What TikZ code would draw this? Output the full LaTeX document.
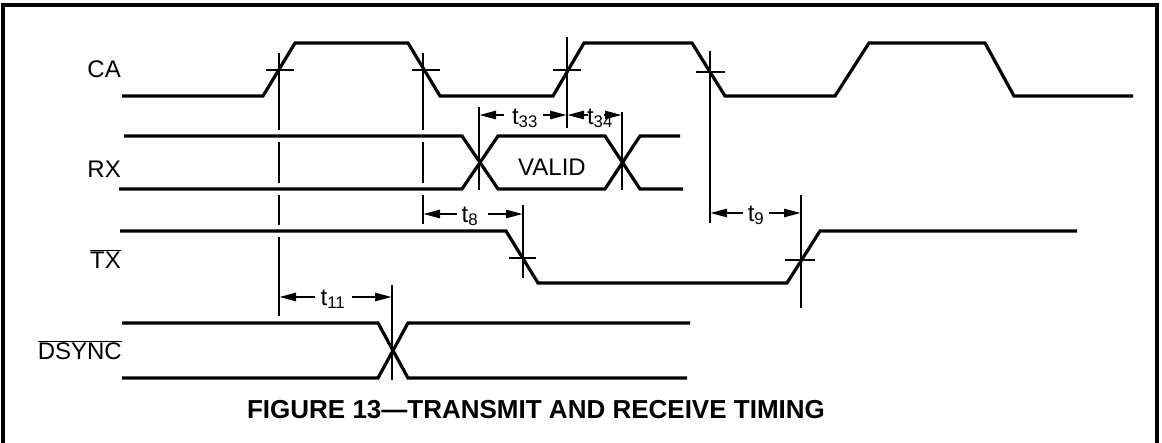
\documentclass[tikz,border=0pt]{standalone}
\usepackage{fontspec}
\setmainfont{Liberation Sans}
\usetikzlibrary{arrows.meta}
\begin{document}
\begin{tikzpicture}[x=1pt,y=-1pt,
  sig/.style={line width=3.2pt,line join=miter},
  vline/.style={line width=2.8pt},
  tick/.style={line width=2.8pt},
  frame/.style={line width=3.5pt},
  dim/.style={line width=2.6pt,-{Triangle[length=17pt,width=8pt]}},
  lbl/.style={font=\fontsize{24}{24}\selectfont,inner sep=0pt},
  tlbl/.style={font=\fontsize{24}{24}\selectfont,inner sep=0pt,anchor=base},
  captext/.style={font=\fontsize{26}{26}\selectfont\bfseries,inner sep=0pt}]
\useasboundingbox (0,0) rectangle (1162,442);
% frame
\draw[frame] (3,445) -- (3,5) -- (1157,5) -- (1157,445);
% labels
\node[lbl,anchor=east] (lca) at (121,69) {CA};
\node[lbl,anchor=east] (lrx) at (121,169) {RX};
\node[lbl,anchor=east] (ltx) at (121,259) {$\overline{\mbox{TX}}$};
\node[lbl,anchor=east] (lds) at (122,350) {$\overline{\mbox{DSYNC}}$};
\node[lbl] (valid) at (552,167) {VALID};
% CA
\draw[sig] (122,96) -- (263,96) -- (295,43) -- (408,43) -- (440,96) -- (553,96) -- (584,43) -- (692,43) -- (725,96) -- (835,96) -- (869,43) -- (985,43) -- (1014,96) -- (1133,96);
% RX
\draw[sig] (124,136) -- (462,136) -- (498,189) -- (605,189) -- (640,136) -- (680,136);
\draw[sig] (119,189) -- (462,189) -- (498,136) -- (605,136) -- (640,189) -- (683,189);
% TX
\draw[sig] (120,231) -- (506,231) -- (538,283) -- (787,283) -- (820,231) -- (1077,231);
% DSYNC
\draw[sig] (122,323) -- (378,323) -- (408,378) -- (687,378);
\draw[sig] (122,378) -- (378,378) -- (408,323) -- (690,323);
% crosshair ticks on CA
\draw[tick] (266,70) -- (294,70);
\draw[tick] (412,70) -- (440,70);
\draw[tick] (553,70) -- (581,70);
\draw[tick] (696,72) -- (725,72);
% ticks on TX
\draw[tick] (509,258) -- (536,258);
\draw[tick] (785,260) -- (815,260);
% vertical reference lines
\draw[vline] (279,53) -- (279,130) (279,142) -- (279,183) (279,195) -- (279,225) (279,237) -- (279,316);
\draw[vline] (423,53) -- (423,130) (423,142) -- (423,183) (423,195) -- (423,224);
\draw[vline] (567,37) -- (567,128);
\draw[vline] (710,51) -- (710,223);
\draw[vline] (479,107) -- (479,190);
\draw[vline] (622,112) -- (622,190);
\draw[vline] (523,205) -- (523,278);
\draw[vline] (801,195) -- (801,308);
\draw[vline] (392,285) -- (392,380);
% t33 / t34
\node[tlbl] (t33) at (525,124) {t\textsubscript{33}};
\node[tlbl] (t34) at (600,124) {t\textsubscript{34}};
\coordinate (a33l) at (479,115);
\coordinate (a33r) at (567,115);
\coordinate (a34r) at (622,115);
\draw[dim] (504,115) -- (a33l);
\draw[dim] (543,115) -- (a33r);
\draw[dim] (588,115) -- (a33r);
\draw[dim] (604,115) -- (a34r);
% t8
\node[tlbl] (t8) at (470,222) {t\textsubscript{8}};
\coordinate (a8l) at (423,214);
\coordinate (a8r) at (523,214);
\draw[dim] (457,214) -- (a8l);
\draw[dim] (488,214) -- (a8r);
% t9
\node[tlbl] (t9) at (756,221) {t\textsubscript{9}};
\coordinate (a9l) at (710,213);
\coordinate (a9r) at (801,213);
\draw[dim] (743,213) -- (a9l);
\draw[dim] (769,213) -- (a9r);
% t11
\node[tlbl] (t11) at (333,305) {t\textsubscript{11}};
\coordinate (a11l) at (279,297);
\coordinate (a11r) at (392,297);
\draw[dim] (315,297) -- (a11l);
\draw[dim] (352,297) -- (a11r);
% caption
\node[captext] (caption) at (536,410) {FIGURE 13---TRANSMIT AND RECEIVE TIMING};
\end{tikzpicture}
\end{document}
